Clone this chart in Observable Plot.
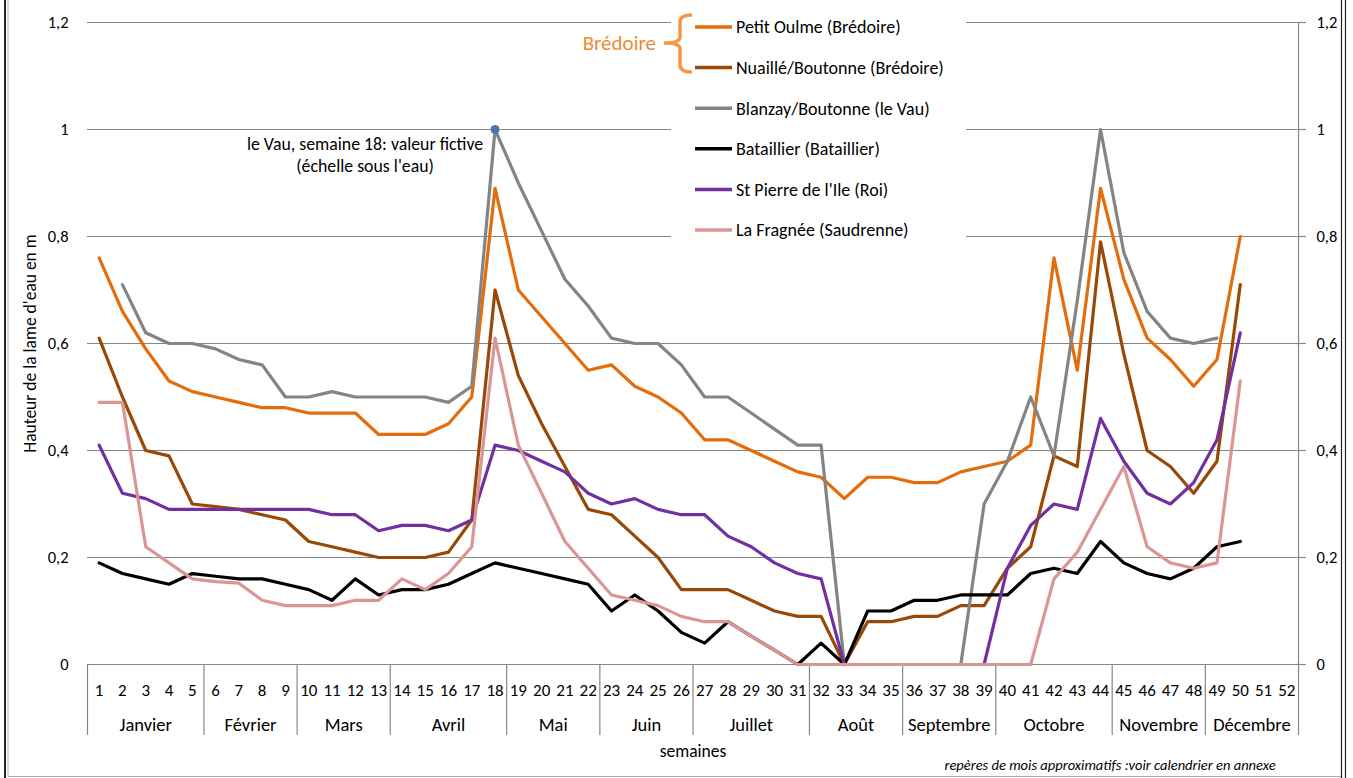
<!DOCTYPE html>
<html><head><meta charset="utf-8">
<script src="https://cdn.jsdelivr.net/npm/d3@7"></script>
<script src="https://cdn.jsdelivr.net/npm/@observablehq/plot@0.6"></script>
<style>
html,body{margin:0;padding:0;background:#fff;}
#wrap{position:relative;width:1353px;height:778px;overflow:hidden;font-family:Carlito,Lato,sans-serif;color:#000;}
#wrap svg{position:absolute;left:0;top:0;}
#foot{position:absolute;left:860px;width:500px;top:756px;text-align:center;font-style:italic;font-size:14.5px;line-height:18px;}
</style></head><body><div id="wrap"></div>
<script>
// ---- data ----
const weeks = d3.range(1, 53);
const monthNames = ["Janvier","Février","Mars","Avril","Mai","Juin","Juillet","Août","Septembre","Octobre","Novembre","Décembre"];
const monthStart = [1, 6, 10, 14, 19, 23, 27, 32, 36, 40, 45, 49];
const monthEnd   = [5, 9, 13, 18, 22, 26, 31, 35, 39, 44, 48, 52];
const yTicks = [0, 0.2, 0.4, 0.6, 0.8, 1, 1.2];

const seriesNames = ["Petit Oulme (Brédoire)","Nuaillé/Boutonne (Brédoire)","Blanzay/Boutonne (le Vau)","Bataillier (Bataillier)","St Pierre de l'Ile (Roi)","La Fragnée (Saudrenne)"];
const seriesColors = ["#E46C0A","#984807","#848484","#000000","#7030A0","#D99694"];

const petitOulme = [0.76,0.66,0.59,0.53,0.51,0.50,0.49,0.48,0.48,0.47,0.47,0.47,0.43,0.43,0.43,0.45,0.50,0.89,0.70,0.65,0.60,0.55,0.56,0.52,0.50,0.47,0.42,0.42,0.40,0.38,0.36,0.35,0.31,0.35,0.35,0.34,0.34,0.36,0.37,0.38,0.41,0.76,0.55,0.89,0.72,0.61,0.57,0.52,0.57,0.80];
const nuaille = [0.61,0.50,0.40,0.39,0.30,0.295,0.29,0.28,0.27,0.23,0.22,0.21,0.20,0.20,0.20,0.21,0.27,0.70,0.54,0.45,0.37,0.29,0.28,0.24,0.20,0.14,0.14,0.14,0.12,0.10,0.09,0.09,0,0.08,0.08,0.09,0.09,0.11,0.11,0.18,0.22,0.39,0.37,0.79,0.58,0.40,0.37,0.32,0.38,0.71];
const blanzay = [null,0.71,0.62,0.60,0.60,0.59,0.57,0.56,0.50,0.50,0.51,0.50,0.50,0.50,0.50,0.49,0.52,1.00,0.90,0.81,0.72,0.67,0.61,0.60,0.60,0.56,0.50,0.50,0.47,0.44,0.41,0.41,0,0,0,0,0,0,0.30,0.38,0.50,0.39,0.68,1.00,0.77,0.66,0.61,0.60,0.61];
const bataillier = [0.19,0.17,0.16,0.15,0.17,0.165,0.16,0.16,0.15,0.14,0.12,0.16,0.13,0.14,0.14,0.15,0.17,0.19,0.18,0.17,0.16,0.15,0.10,0.13,0.10,0.06,0.04,0.08,0.053,0.027,0,0.04,0,0.10,0.10,0.12,0.12,0.13,0.13,0.13,0.17,0.18,0.17,0.23,0.19,0.17,0.16,0.18,0.22,0.23];
const stPierre = [0.41,0.32,0.31,0.29,0.29,0.29,0.29,0.29,0.29,0.29,0.28,0.28,0.25,0.26,0.26,0.25,0.27,0.41,0.40,0.38,0.36,0.32,0.30,0.31,0.29,0.28,0.28,0.24,0.22,0.19,0.17,0.16,0,0,0,0,0,0,0,0.18,0.26,0.30,0.29,0.46,0.38,0.32,0.30,0.34,0.42,0.62];
const laFragnee = [0.49,0.49,0.22,0.19,0.16,0.155,0.152,0.12,0.11,0.11,0.11,0.12,0.12,0.16,0.14,0.17,0.22,0.61,0.41,0.32,0.23,0.18,0.13,0.12,0.11,0.09,0.08,0.08,0.053,0.027,0,0,0,0,0,0,0,0,0,0,0,0.16,0.21,0.29,0.37,0.22,0.19,0.18,0.19,0.53];

const noteWeek = 18, noteValue = 1;
const noteText = "le Vau, semaine 18: valeur fictive\n(échelle sous l'eau)";
const yLabel = "Hauteur de la lame d'eau en m";
const xLabel = "semaines";
const footnote = "repères de mois approximatifs :voir calendrier en annexe";
const groupLabel = "Brédoire";

// ---- build ----
const allValues = [petitOulme, nuaille, blanzay, bataillier, stPierre, laFragnee];
const rows = allValues.flatMap((vals, s) => vals.map((v, i) => ({week: i + 1, v, name: seriesNames[s]})));
const months = monthNames.map((m, i) => ({name: m, start: monthStart[i], end: monthEnd[i]}));
const boundaries = [monthStart[0] - 0.5, ...monthEnd.map(e => e + 0.5)];
const fmt = d => String(d).replace(".", ",");
const GRID = "#878787";

const chart = Plot.plot({
  width: 1353, height: 778,
  marginLeft: 87, marginRight: 55, marginTop: 22, marginBottom: 114,
  style: {fontFamily: "Carlito, Lato, sans-serif", fontSize: "17.5px", color: "#000", background: "transparent"},
  x: {type: "linear", domain: [0.5, 52.5]},
  y: {domain: [0, 1.2]},
  color: {domain: seriesNames, range: seriesColors},
  marks: [
    Plot.ruleY(yTicks, {stroke: GRID, strokeWidth: 1.2}),
    Plot.ruleX([52.5], {stroke: GRID, strokeWidth: 1.2}),
    Plot.axisX(boundaries, {anchor: "bottom", tickSize: 71, tickFormat: () => "", stroke: GRID, strokeWidth: 1.2, label: null}),
    Plot.axisX(weeks, {anchor: "bottom", tickSize: 0, tickPadding: 19, fontSize: 17, label: null}),
    Plot.axisY(yTicks, {anchor: "left", tickSize: 0, tickPadding: 19, fontSize: 16.5, tickFormat: fmt, label: null}),
    Plot.axisY(yTicks, {anchor: "right", tickSize: 7, tickPadding: 11, fontSize: 16.5, tickFormat: fmt, stroke: GRID, strokeWidth: 1.2, label: null}),
    Plot.text(months, {x: d => (d.start + d.end) / 2, text: "name", frameAnchor: "bottom", dy: 66, fontSize: 18.5}),
    Plot.text([xLabel], {frameAnchor: "bottom", dy: 92, fontSize: 17.5}),
    Plot.text([yLabel], {frameAnchor: "left", textAnchor: "middle", dx: -57, rotate: -90, fontSize: 17.5}),
    Plot.line(rows, {x: "week", y: "v", z: "name", stroke: "name", strokeWidth: 3.2, strokeLinejoin: "round", strokeLinecap: "round"}),
    Plot.dot([{week: noteWeek, v: noteValue}], {x: "week", y: "v", r: 4.5, fill: "#4A76AA"}),
    Plot.text([{week: noteWeek, v: noteValue}], {x: "week", y: "v", text: () => noteText, dx: -130, dy: 4, lineAnchor: "top", lineHeight: 1.28, fontSize: 17.8})
  ]
});
const wrap = document.getElementById("wrap");
wrap.appendChild(chart);

// ---- overlay: legend, brace, border ----
const ov = d3.select(wrap).append("svg").attr("width", 1353).attr("height", 778)
  .style("font-family", "Carlito, Lato, sans-serif");
ov.append("rect").attr("x", 671).attr("y", 0).attr("width", 295).attr("height", 250).attr("fill", "#fff");
seriesNames.forEach((n, i) => {
  const y = 27 + 40.6 * i;
  ov.append("line").attr("x1", 695).attr("x2", 732).attr("y1", y).attr("y2", y)
    .attr("stroke", seriesColors[i]).attr("stroke-width", 3.5);
  ov.append("text").attr("x", 736).attr("y", y).attr("dy", "0.35em").attr("font-size", 18).text(n);
});
ov.append("path").attr("d", "M692,15 Q680,15 680,22 L680,37 Q680,43 664,43 Q680,43 680,49 L680,65 Q680,72 692,72")
  .attr("fill", "none").attr("stroke", "#F79646").attr("stroke-width", 3.5);
ov.append("text").attr("x", 656).attr("y", 43).attr("dy", "0.35em").attr("text-anchor", "end")
  .attr("font-size", 21).attr("fill", "#EB8C34").text(groupLabel);
// frame
ov.append("line").attr("x1", 5).attr("x2", 5).attr("y1", 0).attr("y2", 778).attr("stroke", "#222").attr("stroke-width", 2);
ov.append("line").attr("x1", 8).attr("x2", 8).attr("y1", 0).attr("y2", 777).attr("stroke", "#aaa").attr("stroke-width", 1);
ov.append("line").attr("x1", 8).attr("x2", 1342).attr("y1", 776.5).attr("y2", 776.5).attr("stroke", "#aaa").attr("stroke-width", 1);
ov.append("line").attr("x1", 1341.5).attr("x2", 1341.5).attr("y1", 0).attr("y2", 778).attr("stroke", "#222").attr("stroke-width", 1.2);
ov.append("line").attr("x1", 1345.5).attr("x2", 1345.5).attr("y1", 0).attr("y2", 778).attr("stroke", "#222").attr("stroke-width", 1.2);

const f = document.createElement("div");
f.id = "foot"; f.textContent = footnote;
wrap.appendChild(f);
</script>
</body></html>
